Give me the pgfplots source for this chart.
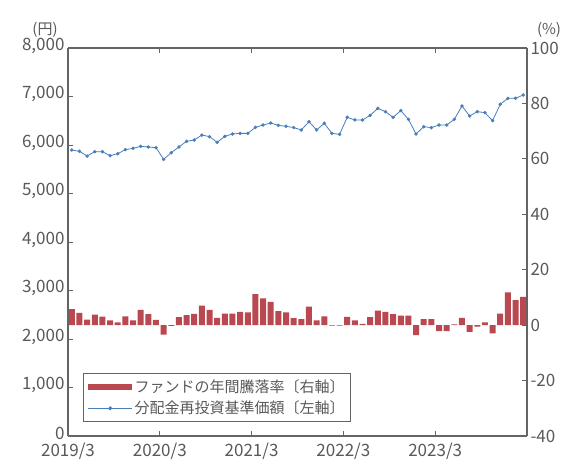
\documentclass[border=0pt]{standalone}
\usepackage{pgfplots}
\pgfplotsset{compat=1.18}
\usepackage{pgfplotstable}
\usepackage{fontspec}
\setmainfont{Noto Sans CJK JP}
\definecolor{barred}{RGB}{185,72,80}
\definecolor{lineblue}{RGB}{74,126,187}
\definecolor{txtgray}{RGB}{89,89,89}
\definecolor{axgray}{RGB}{100,100,100}

\pgfplotstableread{
i val
0 5897
1 5870
2 5773
3 5863
4 5863
5 5780
6 5821
7 5904
8 5931
9 5973
10 5959
11 5945
12 5705
13 5842
14 5959
15 6076
16 6103
17 6206
18 6172
19 6055
20 6179
21 6227
22 6240
23 6240
24 6364
25 6412
26 6453
27 6405
28 6385
29 6360
30 6310
31 6481
32 6310
33 6447
34 6241
35 6220
36 6571
37 6516
38 6516
39 6612
40 6756
41 6688
42 6571
43 6709
44 6530
45 6227
46 6378
47 6358
48 6413
49 6413
50 6530
51 6805
52 6598
53 6688
54 6667
55 6502
56 6839
57 6963
58 6963
59 7031
}\linedata

\pgfplotstableread{
i r
0 5.8
1 4.4
2 2.0
3 3.8
4 3.1
5 1.7
6 1.0
7 3.2
8 1.7
9 5.5
10 4.0
11 1.9
12 -3.4
13 -0.3
14 2.9
15 3.6
16 4.1
17 7.0
18 5.5
19 2.6
20 4.2
21 4.2
22 4.8
23 4.6
24 11.2
25 9.7
26 8.4
27 5.1
28 4.6
29 2.5
30 2.2
31 6.7
32 1.7
33 3.2
34 -0.2
35 -0.2
36 3.0
37 1.7
38 0.5
39 2.9
40 5.2
41 4.8
42 4.0
43 3.4
44 3.4
45 -3.6
46 2.2
47 2.2
48 -2.2
49 -2.2
50 0.3
51 2.6
52 -2.4
53 -0.5
54 1.0
55 -3.0
56 4.2
57 11.8
58 9.0
59 10.2
}\bardata

\begin{document}
\begin{tikzpicture}
\path[use as bounding box] (-68pt,-23pt) rectangle (503pt,436pt);
\pgfplotsset{
  common/.style={
    scale only axis, width=459pt, height=388pt,
    xmin=-0.5, xmax=59.5,
    at={(0pt,0pt)}, anchor=south west,
    axis line style={axgray, line width=1.2pt},
    tick style={axgray, line width=1pt},
    tick align=inside, major tick length=5pt,
    tick label style={font=\fontsize{17}{20}\selectfont, text=txtgray},
    /pgf/number format/assume math mode=true,
  }
}
\begin{axis}[common,
  axis y line*=left,
  ymin=0, ymax=8000,
  ytick={0,1000,...,8000},
  scaled y ticks=false,
  yticklabel style={/pgf/number format/1000 sep={,}, inner ysep=0pt, yshift=2.5pt},
  xtick={-0.5,11.5,23.5,35.5,47.5},
  xticklabels={2019/3,2020/3,2021/3,2022/3,2023/3},
  xticklabel style={yshift=-7pt, inner ysep=0pt},
  clip=false,
]
\addplot[lineblue, line width=0.8pt, mark=*, mark size=1.3pt, mark options={fill=lineblue, draw=lineblue}] table[x=i, y=val] {\linedata};
\node[font=\fontsize{15}{17}\selectfont, text=txtgray] at (axis description cs:-0.05,1.047) {(円)};
\node[font=\fontsize{15}{17}\selectfont, text=txtgray] at (axis description cs:1.048,1.047) {(\%)};
\end{axis}
\begin{axis}[common,
  axis y line*=right, axis x line=none,
  ymin=-40, ymax=100,
  ytick={-40,-20,...,100},
  legend cell align=left,
  legend style={at={(axis description cs:0.033,0.036)}, anchor=south west,
    draw=axgray, line width=1.2pt, font=\fontsize{15}{17}\selectfont, text=txtgray,
    row sep=3pt, inner xsep=4pt, inner ysep=4pt},
]
\addplot[ybar, bar width=6pt, fill=barred, draw=none,
  legend image code/.code={\fill[barred] (0pt,-3pt) rectangle (44pt,3pt);}]
  table[x=i, y=r] {\bardata};
\addlegendentry{ファンドの年間騰落率〔右軸〕}
\addlegendimage{lineblue, legend image code/.code={\draw[lineblue, line width=0.8pt] (0pt,0pt)--(44pt,0pt); \fill[lineblue] (22pt,0pt) circle (1.3pt);}}
\addlegendentry{分配金再投資基準価額〔左軸〕}
\end{axis}
\end{tikzpicture}
\end{document}
